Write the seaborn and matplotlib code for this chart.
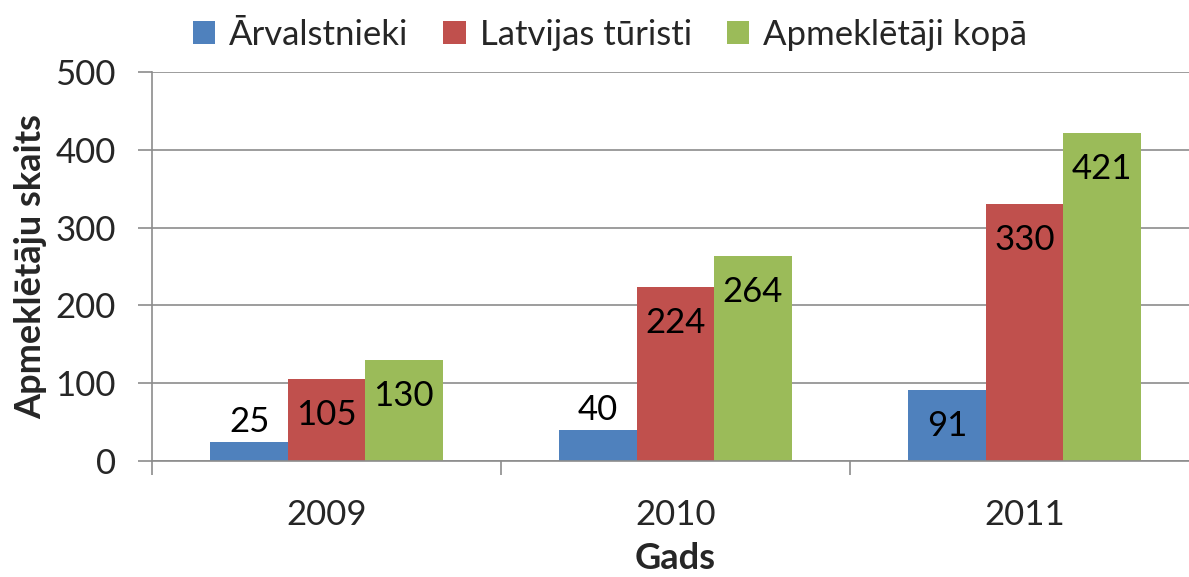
import matplotlib
matplotlib.use("Agg")
import matplotlib.pyplot as plt
import seaborn as sns
import pandas as pd
from matplotlib.patches import Patch

years = ["2009", "2010", "2011"]
series = ["Ārvalstnieki", "Latvijas tūristi", "Apmeklētāji kopā"]
arvalstnieki = [25, 40, 91]
latvijas = [105, 224, 330]
kopa = [130, 264, 421]
colors = ["#4F81BD", "#C0504D", "#9BBB59"]

df = pd.DataFrame({
    "Gads": years * 3,
    "Sērija": [series[0]] * 3 + [series[1]] * 3 + [series[2]] * 3,
    "Vērtība": arvalstnieki + latvijas + kopa,
})

sns.set_style("white")
plt.rcParams["font.family"] = ["Lato", "DejaVu Sans"]

fig = plt.figure(figsize=(11.89, 5.77), dpi=100)
ax = fig.add_axes([152 / 1189, 1 - 461 / 577, (1199 - 152) / 1189, (461 - 72) / 577])

sns.barplot(data=df, x="Gads", y="Vērtība", hue="Sērija", palette=colors,
            width=0.665, gap=0, saturation=1, ax=ax, legend=False, linewidth=0)

ax.set_ylim(0, 500)
ax.set_xlim(-0.5, 2.5)
ax.set_yticks([0, 100, 200, 300, 400, 500])
ax.yaxis.grid(True, color="#8c8c8c", linewidth=1.2)
ax.set_axisbelow(True)
for s in ["top", "right"]:
    ax.spines[s].set_visible(False)
ax.spines["left"].set_color("#8c8c8c")
ax.spines["bottom"].set_color("#8c8c8c")
ax.spines["left"].set_linewidth(1.2)
ax.spines["bottom"].set_linewidth(1.2)

ax.tick_params(axis="y", which="major", left=True, length=10, color="#8c8c8c",
               width=1.2, labelsize=25, pad=16)
ax.set_xticks([0, 1, 2])
ax.set_xticklabels(years)
ax.tick_params(axis="x", which="major", bottom=False, labelsize=25, pad=24)
ax.set_xticks([-0.5, 0.5, 1.5, 2.5], minor=True)
ax.tick_params(axis="x", which="minor", bottom=True, length=10, color="#8c8c8c", width=1.2)

ax.set_ylabel("Apmeklētāju skaits", fontsize=26, fontweight="bold", labelpad=6)
ax.set_xlabel("Gads", fontsize=26, fontweight="bold", labelpad=8)

for cont in ax.containers:
    for rect in cont:
        v = rect.get_height()
        cx = rect.get_x() + rect.get_width() / 2
        off = 20 if v < 60 else -36
        ax.annotate(f"{int(round(v))}", (cx, v), xytext=(0, off), textcoords="offset pixels",
                    ha="center", va="center", fontsize=25, color="black")

handles = [Patch(facecolor=c, edgecolor="none") for c in colors]
fig.legend(handles, series, loc="center", bbox_to_anchor=(610 / 1189, 1 - 35 / 577),
           ncol=3, frameon=False, fontsize=25, handlelength=0.65, handleheight=0.65,
           handletextpad=0.4, columnspacing=1.0)

fig.savefig("out.png", dpi=100)
